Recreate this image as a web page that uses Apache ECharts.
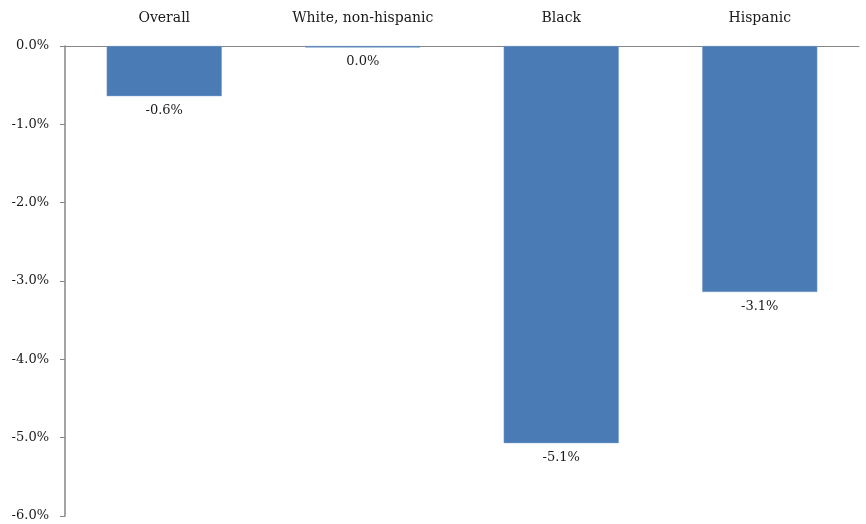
<!DOCTYPE html>
<html>
<head>
<meta charset="utf-8">
<script src="https://cdn.jsdelivr.net/npm/echarts@6/dist/echarts.min.js"></script>
<style>
  html, body { margin: 0; padding: 0; background: #fff; }
  #chart { width: 866px; height: 524px; }
</style>
</head>
<body>
<div id="chart"></div>
<script>
  const categories = ['Overall', 'White, non-hispanic', 'Black', 'Hispanic']
  const values = [-0.64, -0.02, -5.07, -3.14]
  const yMin = -6
  const yMax = 0

  const font = '"DejaVu Serif", serif'

  function pct (v) {
    let s = v.toFixed(1)
    if (s === '-0.0') s = '0.0'
    return s + '%'
  }

  const chart = echarts.init(document.getElementById('chart'))
  chart.setOption({
    animation: false,
    textStyle: { fontFamily: font },
    grid: { left: 65, right: 7, top: 46, bottom: 8, containLabel: false },
    xAxis: {
      type: 'category',
      position: 'top',
      data: categories,
      axisLine: { lineStyle: { color: '#868686', width: 1 } },
      axisTick: { show: false },
      axisLabel: { color: '#1a1a1a', fontSize: 14, fontFamily: font, margin: 21 }
    },
    yAxis: {
      type: 'value',
      min: yMin,
      max: yMax,
      interval: 1,
      axisLine: { show: true, lineStyle: { color: '#868686', width: 1.5 } },
      axisTick: { show: true, length: 5, lineStyle: { color: '#868686' } },
      splitLine: { show: false },
      axisLabel: {
        color: '#1a1a1a',
        fontSize: 13,
        fontFamily: font,
        margin: 16,
        formatter: function (v) { return v.toFixed(1) + '%' }
      }
    },
    series: [{
      type: 'bar',
      data: values,
      barWidth: '58%',
      itemStyle: { color: '#4a7bb4', borderColor: '#7a9fd0', borderWidth: 0.5 },
      label: {
        show: true,
        position: 'bottom',
        distance: 8,
        color: '#1a1a1a',
        fontSize: 13,
        fontFamily: font,
        formatter: function (p) { return pct(p.value) }
      }
    }]
  })
</script>
</body>
</html>
